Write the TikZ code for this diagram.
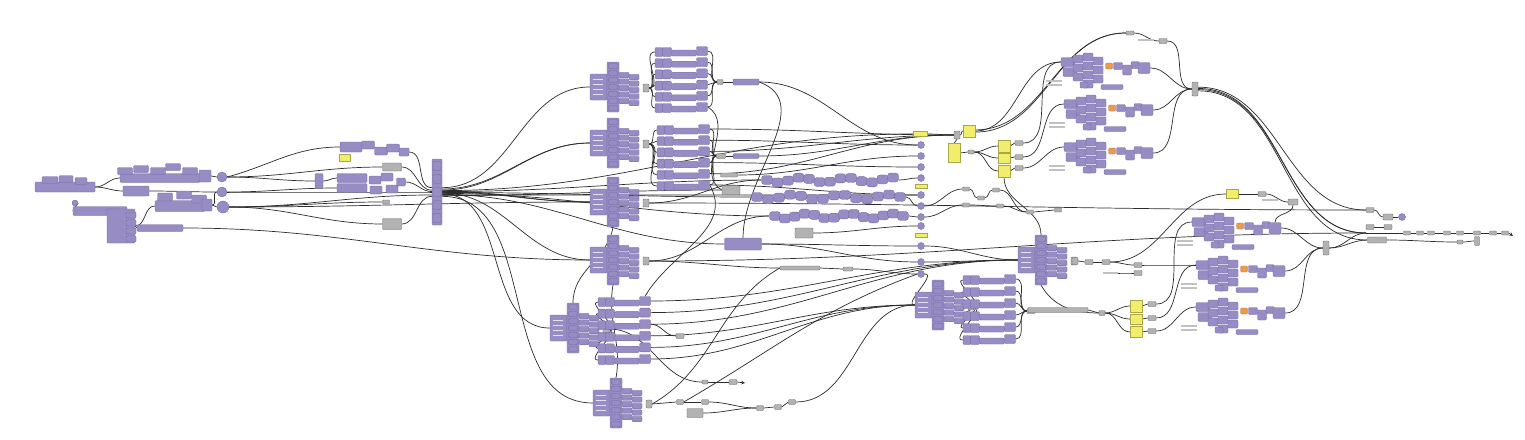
\documentclass[tikz,border=0pt]{standalone}
\usetikzlibrary{positioning}
\definecolor{gpurple}{HTML}{978CC3}
\definecolor{gpurpled}{HTML}{7468A3}
\definecolor{ggray}{HTML}{B2B2B2}
\definecolor{gyellow}{HTML}{F2EE6C}
\definecolor{gorange}{HTML}{EC9A4E}
\definecolor{gwire}{HTML}{2C2C2C}

\pgfdeclarelayer{back}
\pgfdeclarelayer{wires}
\pgfsetlayers{back,wires,main}

\tikzset{
  comp/.style={draw=gpurpled, fill=gpurple, rounded corners=1.2pt, line width=0.35pt,
    inner sep=0pt, minimum width=12pt, minimum height=8pt},
  pill/.style={comp, rounded corners=3pt, minimum width=11pt, minimum height=9pt},
  gbox/.style={draw=gray!80!black, fill=ggray, rounded corners=0.8pt, line width=0.35pt,
    inner sep=0pt, minimum width=8pt, minimum height=5pt},
  glab/.style={fill=ggray!80, inner sep=0pt, minimum width=16pt, minimum height=2.5pt},
  ypanel/.style={draw=gyellow!70!black, fill=gyellow, line width=0.3pt, inner sep=0pt,
    minimum width=12pt, minimum height=12pt},
  orbox/.style={draw=gorange!70!black, fill=gorange, rounded corners=1pt, line width=0.3pt,
    inner sep=0pt, minimum width=7pt, minimum height=6pt},
  pcirc/.style={circle, draw=gpurpled, fill=gpurple, line width=0.35pt, inner sep=0pt,
    minimum size=10pt},
  wire/.style={draw=gwire, line width=0.7pt},
}

% fan-shaped cluster: name, left x, top y
\newcommand{\fan}[3]{%
  \begin{scope}[shift={(#2,#3)}]
    \node[comp, minimum width=17pt, minimum height=26pt] (#1-l) at (8.5,25) {};
    \foreach \j in {0,...,3} \draw[white!75!gpurple, line width=0.9pt] (3,17+\j*5) -- (13,17+\j*5);
    \node[comp, minimum width=12pt, minimum height=50pt] (#1-c) at (23,25) {};
    \foreach \j in {0,...,6} \node[comp, minimum width=9pt, minimum height=5pt] at (23,4+\j*7) {};
    \foreach \j in {0,...,4} {
      \node[comp, minimum width=10pt, minimum height=5.5pt] at (34,13+\j*6.5) {};
      \node[comp, minimum width=10pt, minimum height=5.5pt] at (44,15+\j*6.5) {};
    }
    \node[gbox, minimum width=6pt, minimum height=8pt] (#1-o) at (56,26) {};
  \end{scope}}

% six rows of components: name, x, y, row step
\newcommand{\rowset}[4]{%
  \foreach \k in {0,...,5} {
    \begin{scope}[shift={(#2,#3+\k*#4)}]
      \node[comp, minimum width=8pt, minimum height=9pt] (#1-\k-i) at (4,0) {};
      \node[comp, minimum width=9pt, minimum height=9pt] at (12,0) {};
      \node[comp, minimum width=25pt, minimum height=6pt] at (29,1) {};
      \node[comp, minimum width=11pt, minimum height=9pt] (#1-\k-o) at (47,-1) {};
    \end{scope}}}

% chain of rounded components: name, x start, x end, y, count
\newcommand{\pchain}[5]{%
  \draw[wire] (#2,#4) -- (#3,#4);
  \foreach \i in {0,...,#5} {
    \pgfmathsetmacro{\chx}{#2+\i*(#3-#2)/#5}
    \pgfmathsetmacro{\chy}{#4+2.5*sin(\i*83)}
    \node[pill] at (\chx,\chy) {};
  }
  \coordinate (#1-s) at (#2-6,#4);
  \coordinate (#1-e) at (#3+6,#4);}

% right-hand cluster with orange item: name, x, y
\newcommand{\rclust}[3]{%
  \begin{scope}[shift={(#2,#3)}]
    \node[comp, minimum width=14pt, minimum height=9pt] (#1-i) at (6,9) {};
    \node[comp, minimum width=14pt, minimum height=9pt] at (8,19) {};
    \foreach \cc/\rr in {16/2,16/11,16/20,26/0,26/9,26/18,26/27,36/4,36/13,36/22}
      \node[comp, minimum width=10pt, minimum height=8pt] at (\cc,\rr+4) {};
    \node[comp, minimum width=8pt, minimum height=6pt] at (22,32) {};
    \node[orbox] (#1-x) at (47,13) {};
    \node[comp, minimum width=9pt, minimum height=7pt] at (56,13) {};
    \node[comp, minimum width=9pt, minimum height=10pt] at (65,17) {};
    \node[comp, minimum width=8pt, minimum height=7pt] at (73,12) {};
    \node[comp, minimum width=12pt, minimum height=11pt] (#1-o) at (82,15) {};
    \node[comp, minimum width=22pt, minimum height=5pt] (#1-p) at (50,34) {};
    \node[glab] at (-8,28) {};
    \node[glab] at (-8,32) {};
  \end{scope}}

\begin{document}
\begin{tikzpicture}[x=1pt, y=-1pt]
  \useasboundingbox (0,0) rectangle (1525,439);
  \begin{pgfonlayer}{back}
    \fill[white] (0,0) rectangle (1525,439);
  \end{pgfonlayer}

  % left inputs
  \node[comp, minimum width=60pt, minimum height=10pt] (l1) at (65,187) {};
  \node[comp, minimum width=16pt, minimum height=7pt] at (50,180) {};
  \node[comp, minimum width=14pt, minimum height=7pt] at (66,179) {};
  \node[comp, minimum width=12pt, minimum height=7pt] at (81,181) {};
  \node[comp, minimum width=80pt, minimum height=9pt] (l2) at (160,178) {};
  \foreach \xx/\yy in {125/171,141/169,158/171,173/167,190/171}
    \node[comp, minimum width=15pt, minimum height=7pt] at (\xx,\yy) {};
  \node[comp, minimum width=12pt, minimum height=12pt] (l2o) at (205,176) {};
  \node[comp, minimum width=26pt, minimum height=10pt] (l5) at (136,191) {};
  \node[pcirc, minimum size=6pt] (c0) at (75,203) {};
  \node[comp, minimum width=54pt, minimum height=9pt] (l3) at (100,211) {};
  \node[comp, minimum width=28pt, minimum height=34pt] (l3s) at (121,226) {};
  \foreach \yy in {215,223,231,239}
    \node[comp, minimum width=10pt, minimum height=6pt] at (131,\yy) {};
  \node[comp, minimum width=46pt, minimum height=7pt] (l3e) at (160,228) {};
  \node[comp, minimum width=50pt, minimum height=11pt] (l4) at (180,206) {};
  \foreach \xx/\yy in {165/197,184/195,199/199}
    \node[comp, minimum width=15pt, minimum height=8pt] at (\xx,\yy) {};
  \node[comp, minimum width=10pt, minimum height=12pt] (l4o) at (207,205) {};
  \node[pcirc] (c1) at (222,177) {};
  \node[pcirc] (c2) at (222,192) {};
  \node[pcirc, minimum size=12pt] (c3) at (223,207) {};

  % second group
  \node[comp, minimum width=22pt, minimum height=10pt] (m1) at (351,147) {};
  \foreach \xx/\yy in {368/145,381/151,393/148}
    \node[comp, minimum width=13pt, minimum height=8pt] at (\xx,\yy) {};
  \node[comp, minimum width=10pt, minimum height=8pt] (m1o) at (404,152) {};
  \node[ypanel, minimum width=11pt, minimum height=7pt] (y0) at (345,158) {};
  \node[comp, minimum width=8pt, minimum height=15pt] (m2) at (319,181) {};
  \node[comp, minimum width=30pt, minimum height=9pt] (m3) at (352,178) {};
  \node[comp, minimum width=30pt, minimum height=9pt] (m3b) at (352,188) {};
  \foreach \xx/\yy in {375/180,387/177,376/190,392/189}
    \node[comp, minimum width=12pt, minimum height=8pt] at (\xx,\yy) {};
  \node[comp, minimum width=9pt, minimum height=8pt] (m3o) at (401,182) {};
  \node[gbox, minimum width=19pt, minimum height=8pt] (g1) at (392,167) {};
  \node[gbox, minimum width=7pt, minimum height=4pt] (g2) at (386,202) {};
  \node[gbox, minimum width=19pt, minimum height=11pt] (g3) at (392,224) {};
  \node[comp, minimum width=10pt, minimum height=66pt] (col) at (437,192) {};
  \foreach \yy in {166,179,192,205,218}
    \node[comp, minimum width=8pt, minimum height=9pt] at (437,\yy) {};

  % fans and rows
  \fan{A}{590}{62}
  \fan{B}{590}{118}
  \fan{C}{590}{177}
  \fan{D}{590}{235}
  \fan{E}{550}{303}
  \fan{F}{593}{378}
  \fan{H}{915}{280}
  \fan{G}{1018}{235}
  \rowset{RA}{655}{52}{11.2}
  \rowset{RB}{657}{130}{11.2}
  \rowset{RE}{598}{302}{11.6}
  \rowset{RH}{963}{280}{12}

  \node[gbox, minimum width=6pt, minimum height=5pt] (ga) at (720,82) {};
  \node[comp, minimum width=26pt, minimum height=6pt] (sa) at (746,82) {};
  \node[gbox, minimum width=9pt, minimum height=5pt] (gb) at (721,156) {};
  \node[comp, minimum width=26pt, minimum height=5pt] (sb) at (746,156) {};
  \node[gbox, minimum width=17pt, minimum height=4pt] (gpb) at (729,175) {};
  \node[comp, minimum width=37pt, minimum height=12pt] (bx) at (743,244) {};
  \node[gbox, minimum width=18pt, minimum height=9pt] (gpc) at (731,190) {};
  \node[gbox, minimum width=18pt, minimum height=10pt] (gpd) at (804,233) {};
  \node[gbox, minimum width=40pt, minimum height=4pt] (gx1) at (800,268) {};
  \node[gbox, minimum width=10pt, minimum height=4pt] (gx2) at (848,269) {};

  % chains
  \pchain{ch1}{767}{893}{180}{12}
  \pchain{ch2}{757}{900}{197}{13}
  \pchain{ch3}{775}{903}{216}{13}

  % column of circles
  \foreach \k/\yy in {1/145,2/156,3/167,4/178,5/195,6/206,7/217,8/226,9/246,10/262,11/274}
    \node[pcirc, minimum size=7pt] (k\k) at (921,\yy) {};
  \node[ypanel, minimum width=14pt, minimum height=5pt] (ya) at (920,134) {};
  \node[ypanel, minimum width=12pt, minimum height=4pt] (yb) at (921,186) {};
  \node[ypanel, minimum width=12pt, minimum height=4pt] (yc) at (921,235) {};

  % yellow panels and switches
  \node[gbox, minimum width=6pt, minimum height=8pt] (gq) at (957,135) {};
  \node[ypanel] (y1) at (969,131) {};
  \node[ypanel, minimum height=19pt] (y2) at (954,153) {};
  \node[gbox, minimum width=6pt, minimum height=4pt] (gr) at (971,152) {};
  \node[ypanel] (y3) at (1004,146) {};
  \node[ypanel, minimum height=10pt] (y4) at (1004,158) {};
  \node[ypanel] (y5) at (1004,171) {};
  \node[gbox] (gs1) at (1019,143) {};
  \node[gbox] (gs2) at (1019,157) {};
  \node[gbox] (gs3) at (1019,168) {};
  \foreach \xx/\yy [count=\n] in {966/189,981/198,996/190,966/205,1000/206,1030/212,1058/210}
    \node[gbox, minimum width=7pt, minimum height=4pt] (gc\n) at (\xx,\yy) {};

  % right clusters
  \rclust{R1}{1062}{53}
  \rclust{R2}{1065}{95}
  \rclust{R3}{1065}{138}
  \rclust{R4}{1193}{213}
  \rclust{R5}{1197}{256}
  \rclust{R6}{1197}{298}
  \node[gbox, minimum width=8pt, minimum height=4pt] (gt1) at (1130,33) {};
  \node[gbox, minimum width=8pt, minimum height=5pt] (gt2) at (1163,41) {};
  \node[glab] at (1146,40) {};
  \node[gbox, minimum width=6pt, minimum height=14pt] (mg1) at (1195,89) {};

  \node[gbox, minimum width=8pt, minimum height=5pt] (gh) at (1031,311) {};
  \node[gbox, minimum width=60pt, minimum height=5pt] (gbar) at (1058,310) {};
  \node[gbox, minimum width=6pt, minimum height=5pt] (gh2) at (1102,313) {};
  \node[gbox, minimum width=6pt, minimum height=7pt] (gg) at (1075,261) {};
  \node[gbox] (gg1) at (1089,262) {};
  \node[gbox] (gg2) at (1106,262) {};
  \node[gbox] (gg3) at (1138,265) {};
  \node[gbox] (gg4) at (1138,273) {};
  \node[glab, minimum width=15pt] (gp) at (1110,273) {};
  \node[ypanel] (y7) at (1136,306) {};
  \node[ypanel, minimum height=10pt] (y8) at (1136,319) {};
  \node[ypanel, minimum height=11pt] (y9) at (1136,332) {};
  \node[gbox] (gv1) at (1152,304) {};
  \node[gbox] (gv2) at (1152,318) {};
  \node[gbox] (gv3) at (1152,331) {};
  \node[ypanel, minimum height=9pt] (y6) at (1232,194) {};
  \node[gbox] (gu1) at (1262,194) {};
  \node[gbox, minimum width=10pt, minimum height=6pt] (gu2) at (1293,202) {};
  \node[glab] at (1270,200) {};
  \node[gbox, minimum width=6pt, minimum height=14pt] (mg2) at (1326,248) {};

  % far right chain
  \node[gbox] (gw1) at (1370,210) {};
  \node[gbox, minimum width=10pt, minimum height=6pt] (gw2) at (1388,217) {};
  \node[pcirc, minimum size=7pt] (ce) at (1402,217) {};
  \node[gbox] (gw3) at (1370,227) {};
  \node[gbox] (gw4) at (1388,227) {};
  \coordinate (fc-s) at (1366,233);
  \node[gbox, minimum width=19pt, minimum height=6pt] (fp) at (1377,240) {};
  \foreach \xx [count=\n] in {1407,1420,1431,1447,1460,1477,1493,1505}
    \node[gbox, minimum width=7pt, minimum height=4pt] (fc\n) at (\xx,233) {};
  \node[gbox, minimum width=5pt, minimum height=9pt] (fcv) at (1477,241) {};
  \node[gbox, minimum width=6pt, minimum height=4pt] (fcw) at (1460,242) {};
  \coordinate (fc-e) at (1513,236);

  % bottom chains
  \foreach \xx/\yy [count=\n] in {680/402,705/402,760/408,778/407,792/402}
    \node[gbox, minimum width=7pt, minimum height=5pt] (fb\n) at (\xx,\yy) {};
  \node[gbox, minimum width=16pt, minimum height=9pt] (fbp) at (695,413) {};
  \node[gbox, minimum width=6pt, minimum height=4pt] (fm1) at (705,382) {};
  \node[gbox, minimum width=8pt, minimum height=5pt] (fm2) at (733,382) {};
  \coordinate (fm3) at (745,383);
  \node[gbox, minimum width=8pt, minimum height=5pt] (ge1) at (680,336) {};

  \begin{pgfonlayer}{wires}
    % left group
    \draw[wire] (l1.east) to[out=0,in=180] (l2.west);
    \draw[wire] (l1.east) to[out=0,in=180] (l5.west);
    \draw[wire] (c0.east) -- (l3.west);
    \draw[wire] (l3s.east) to[out=0,in=180] (l4.west);
    \draw[wire] (l3s.east) -- (l3e.west);
    \draw[wire] (l2o.east) to[out=0,in=180] (c1.west);
    \draw[wire] (l5.east) to[out=0,in=180] (c2.west);
    \draw[wire] (l4o.east) to[out=0,in=180] (c2.west);
    \draw[wire] (l4o.east) to[out=0,in=180] (c3.west);
    \draw[wire] (l3e.east) to[out=0,in=180] (D-l.west);
    \draw[wire] (c1.east) to[out=15,in=180] (m1.west);
    \draw[wire] (c1.east) to[out=0,in=180] (m2.west);
    \draw[wire] (c1.east) to[out=0,in=180] (g1.west);
    \draw[wire] (c2.east) to[out=0,in=180] (col.west);
    \draw[wire] (c2.east) to[out=0,in=180] (m3b.west);
    \draw[wire] (c3.east) to[out=0,in=180] (col.-150);
    \draw[wire] (c3.east) to[out=0,in=180] (g3.west);
    \draw[wire] (c3.east) to[out=0,in=180] (g2.west);
    \draw[wire] (c3.east) to[out=0,in=180] (C-l.west);
    \draw[wire] (m2.east) to[out=0,in=180] (m3.west);
    \draw[wire] (m1o.east) to[out=0,in=180] (col.140);
    \draw[wire] (m3o.east) to[out=0,in=180] (col.175);
    \draw[wire] (g1.east) to[out=0,in=180] (col.160);
    \draw[wire] (g3.east) to[out=0,in=180] (col.-140);
    % column to fans and chains
    \draw[wire] (col.40) to[out=0,in=180] (A-l.west);
    \draw[wire] (col.30) to[out=0,in=180] (B-l.west);
    \draw[wire] (col.20) to[out=0,in=180] (B-l.west);
    \draw[wire] (col.10) to[out=0,in=180] (C-l.west);
    \draw[wire] (col.0) to[out=0,in=180] (C-l.west);
    \draw[wire] (col.-10) to[out=0,in=180] (D-l.west);
    \draw[wire] (col.-20) to[out=0,in=180] (E-l.west);
    \draw[wire] (col.-40) to[out=0,in=180] (F-l.west);
    \draw[wire] (col.5) to[out=0,in=180] (ch1-s);
    \draw[wire] (col.-5) to[out=0,in=180] (ch2-s);
    \draw[wire] (col.-15) to[out=0,in=180] (ch3-s);
    \draw[wire] (col.-25) to[out=0,in=180] (bx.west);
    \draw[wire] (col.15) to[out=0,in=180] (ya.west);
    \draw[wire] (col.-30) to[out=0,in=180] (k5.west);
    \draw[wire] (col.-35) to[out=0,in=180] (gpc.west);
    % fans to rows
    \foreach \k in {0,...,5} {
      \draw[wire] (A-o.east) to[out=0,in=180] (RA-\k-i.west);
      \draw[wire] (RA-\k-o.east) to[out=0,in=180] (ga.west);
      \draw[wire] (B-o.east) to[out=0,in=180] (RB-\k-i.west);
      \draw[wire] (RB-\k-o.east) to[out=0,in=180] (gb.west);
      \draw[wire] (E-o.east) to[out=0,in=180] (RE-\k-i.west);
      \draw[wire] (H-o.east) to[out=0,in=180] (RH-\k-i.west);
      \draw[wire] (RH-\k-o.east) to[out=0,in=180] (gh.west);
    }
    \foreach \k in {0,2,4} \draw[wire] (RB-\k-o.east) to[out=0,in=180] (gq.west);
    \foreach \k in {1,3,5} \draw[wire] (RB-\k-o.east) to[out=0,in=180] (k\k.west);
    \foreach \k in {0,1,2} \draw[wire] (RE-\k-o.east) to[out=0,in=180] (G-l.west);
    \foreach \k in {3,4,5} \draw[wire] (RE-\k-o.east) to[out=0,in=180] (H-l.west);
    \draw[wire] (RE-2-o.east) to[out=0,in=180] (ge1.west);
    \draw[wire] (ga) -- (sa);
    \draw[wire] (gb) -- (sb);
    \draw[wire] (sa.east) to[out=0,in=180] (k1.west);
    \draw[wire] (sa.east) to[out=-20,in=90] (bx.north);
    \draw[wire] (sb.east) to[out=0,in=180] (gq.west);
    \draw[wire] (gpb.east) to[out=0,in=180] (k2.west);
    % crossing wires in the middle
    \draw[wire] (RB-5-o.east) to[out=-60,in=60] (RE-0-o.north);
    \draw[wire] (C-o.east) to[out=0,in=180] (ch1-s);
    \draw[wire] (C-o.east) to[out=0,in=180] (gw1.west);
    \draw[wire] (D-o.east) to[out=0,in=180] (ch3-s);
    \draw[wire] (D-o.east) to[out=0,in=180] (fc-s);
    \draw[wire] (D-o.east) to[out=0,in=180] (gx1.west);
    \draw[wire] (C-c.south) to[out=-100,in=90] (E-c.north);
    \draw[wire] (bx.east) to[out=0,in=180] (k9.west);
    \draw[wire] (bx.east) to[out=0,in=180] (k10.west);
    \draw[wire] (gpd.east) to[out=0,in=180] (k8.west);
    \draw[wire] (gx1.east) -- (gx2.west);
    \draw[wire] (gx2.east) to[out=0,in=180] (k11.west);
    \draw[wire] (ch1-e) to[out=0,in=180] (k4.west);
    \draw[wire] (ch2-e) to[out=0,in=180] (k6.west);
    \draw[wire] (ch3-e) to[out=0,in=180] (k7.west);
    \draw[wire] (RA-5-o.east) to[out=-30,in=150] (gpc.west);
    % bottom
    \draw[wire] (F-o.east) -- (fb1.west);
    \draw[wire] (fb1.east) -- (fb2.west);
    \draw[wire] (fbp.east) to[out=0,in=180] (fb3.west);
    \draw[wire] (fb2.east) to[out=0,in=180] (fb3.west);
    \draw[wire] (fb3.east) -- (fb4.west);
    \draw[wire] (fb4.east) -- (fb5.west);
    \draw[wire] (fb5.east) to[out=0,in=180] (H-l.west);
    \draw[wire] (F-o.east) to[out=30,in=210] (gx1.west);
    \draw[wire] (fb1.east) to[out=30,in=200] (k11.west);
    \draw[wire] (E-o.east) to[out=0,in=180] (fm1.west);
    \draw[wire] (fm1.east) -- (fm2.west);
    \draw[wire, -stealth] (fm2.east) -- (fm3);
    \draw[wire] (F-c.north) to[out=80,in=-100] (D-c.south);
    % circles to the right
    \draw[wire] (ya.east) to[out=0,in=180] (gq.west);
    \draw[wire] (k6.east) to[out=0,in=180] (gc1.west);
    \draw[wire] (gc1.east) to[out=0,in=180] (gc2.west);
    \draw[wire] (gc2.east) to[out=0,in=180] (gc3.west);
    \draw[wire] (k7.east) to[out=0,in=180] (gc4.west);
    \draw[wire] (gc4.east) to[out=0,in=180] (gc5.west);
    \draw[wire] (gc5.east) to[out=0,in=180] (gc6.west);
    \draw[wire] (gc3.east) to[out=0,in=180] (gc6.west);
    \draw[wire] (gc6.east) -- (gc7.west);
    \draw[wire] (k9.east) to[out=0,in=180] (G-l.west);
    \draw[wire] (k10.east) to[out=0,in=180] (G-l.west);
    \draw[wire] (k11.east) to[out=0,in=180] (H-l.west);
    % yellow panels and upper right
    \draw[wire] (gq.east) to[out=0,in=180] (y1.west);
    \draw[wire] (gq.south) to[out=-90,in=90] (y2.north);
    \draw[wire] (y2.east) to[out=0,in=180] (gr.west);
    \draw[wire] (gr.east) to[out=0,in=180] (y3.west);
    \draw[wire] (gr.east) to[out=0,in=180] (y4.west);
    \draw[wire] (gr.east) to[out=0,in=180] (y5.west);
    \draw[wire] (y3.east) -- (gs1.west);
    \draw[wire] (y4.east) -- (gs2.west);
    \draw[wire] (y5.east) -- (gs3.west);
    \draw[wire] (gs1.east) to[out=0,in=180] (R1-i.west);
    \draw[wire] (gs2.east) to[out=0,in=180] (R2-i.west);
    \draw[wire] (gs3.east) to[out=0,in=180] (R3-i.west);
    \draw[wire] (y1.10) to[out=0,in=180] (gt1.west);
    \draw[wire] (y1.-10) to[out=0,in=180] (gt1.west);
    \draw[wire] (y1.east) to[out=0,in=180] (R1-i.west);
    \draw[wire] (gt1.east) to[out=0,in=180] (gt2.west);
    \draw[wire] (gt2.east) to[out=0,in=180] (mg1.west);
    \draw[wire] (R1-o.east) to[out=0,in=180] (mg1.west);
    \draw[wire] (R2-o.east) to[out=0,in=180] (mg1.west);
    \draw[wire] (R3-o.east) to[out=0,in=180] (mg1.west);
    \draw[wire] (mg1.30) to[out=0,in=180] (gw1.west);
    \draw[wire] (mg1.10) to[out=0,in=180] (fc-s);
    \draw[wire] (mg1.-10) to[out=0,in=180] (fc-s);
    \draw[wire] (mg1.-30) to[out=0,in=180] (fp.west);
    \draw[wire] (y5.south) to[out=-90,in=90] (G-c.north);
    % lower right
    \draw[wire] (G-o.east) -- (gg.west);
    \draw[wire] (gg.east) -- (gg1.west);
    \draw[wire] (gg1.east) -- (gg2.west);
    \draw[wire] (gg2.east) to[out=0,in=180] (gg3.west);
    \draw[wire] (gp.east) to[out=0,in=180] (gg4.west);
    \draw[wire] (gg2.east) to[out=0,in=180] (y6.west);
    \draw[wire] (G-c.south) to[out=-60,in=180] (gh2.west);
    \draw[wire] (gh.east) -- (gbar.west);
    \draw[wire] (gbar.east) -- (gh2.west);
    \draw[wire] (gh2.east) to[out=0,in=180] (y7.west);
    \draw[wire] (gh2.east) to[out=0,in=180] (y8.west);
    \draw[wire] (gh2.east) to[out=0,in=180] (y9.west);
    \draw[wire] (y7.east) -- (gv1.west);
    \draw[wire] (y8.east) -- (gv2.west);
    \draw[wire] (y9.east) -- (gv3.west);
    \draw[wire] (gv1.east) to[out=0,in=180] (R4-i.west);
    \draw[wire] (gv2.east) to[out=0,in=180] (R5-i.west);
    \draw[wire] (gv3.east) to[out=0,in=180] (R6-i.west);
    \draw[wire] (gg3.east) to[out=0,in=180] (R5-i.west);
    \draw[wire] (y6.east) -- (gu1.west);
    \draw[wire] (gu1.east) to[out=0,in=180] (gu2.west);
    \draw[wire] (gu2.south) to[out=-90,in=90] (R4-o.north);
    \draw[wire] (R4-o.east) to[out=0,in=180] (mg2.west);
    \draw[wire] (R5-o.east) to[out=0,in=180] (mg2.west);
    \draw[wire] (R6-o.east) to[out=0,in=180] (mg2.west);
    \draw[wire] (mg2.east) to[out=0,in=180] (fc-s);
    \draw[wire] (mg2.east) to[out=0,in=180] (fp.west);
    % far right
    \draw[wire] (gw1.east) to[out=0,in=180] (gw2.west);
    \draw[wire] (gw2.east) -- (ce.west);
    \draw[wire] (gw3.east) -- (gw4.west);
    \draw[wire] (fc-s) -- (fc1.west);
    \foreach \a/\b in {1/2,2/3,3/4,4/5,5/6,6/7,7/8}
      \draw[wire] (fc\a.east) -- (fc\b.west);
    \draw[wire] (fp.east) to[out=0,in=180] (fcw.west);
    \draw[wire] (fcw.east) to[out=0,in=180] (fcv.west);
    \draw[wire, -stealth] (fc8.east) -- (fc-e);
  \end{pgfonlayer}
\end{tikzpicture}
\end{document}
